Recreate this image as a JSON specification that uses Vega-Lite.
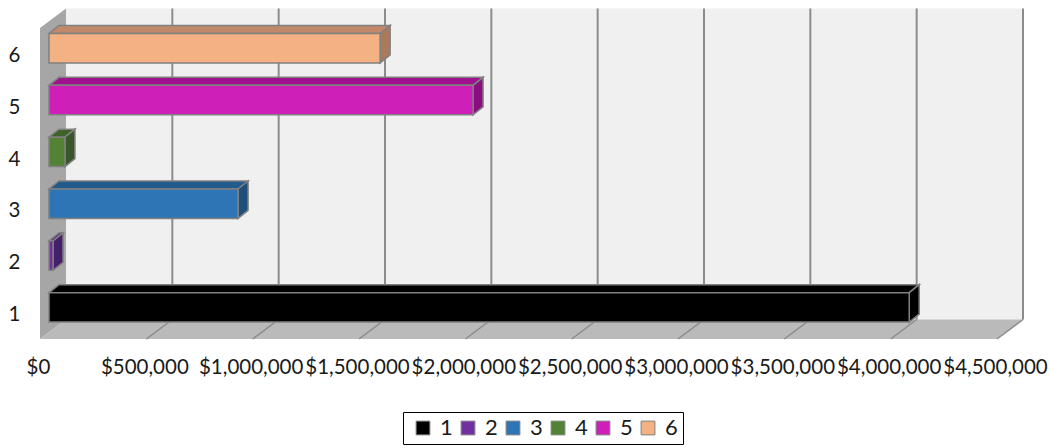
{
  "$schema": "https://vega.github.io/schema/vega-lite/v6.json",
  "width": 957,
  "height": 311,
  "padding": {"left": 40, "top": 28, "right": 52, "bottom": 109},
  "autosize": {"type": "none"},
  "background": "white",
  "config": {
    "view": {"stroke": null},
    "axis": {"labelFont": "Lato", "labelFontSize": 20.5, "labelColor": "#1a1a1a", "grid": false, "domain": false, "ticks": false, "title": null}
  },
  "datasets": {
    "bars": [
      {"category": 1, "value": 4045000},
      {"category": 2, "value": 19000},
      {"category": 3, "value": 889000},
      {"category": 4, "value": 75000},
      {"category": 5, "value": 1994000},
      {"category": 6, "value": 1557000}
    ],
    "ticks": [
      {"tick": 500000}, {"tick": 1000000}, {"tick": 1500000}, {"tick": 2000000}, {"tick": 2500000},
      {"tick": 3000000}, {"tick": 3500000}, {"tick": 4000000}, {"tick": 4500000}
    ],
    "planes": [
      {"plane": "back", "corner": 0, "value": 0, "level": 0.5, "depth": 1},
      {"plane": "back", "corner": 1, "value": 4500000, "level": 0.5, "depth": 1},
      {"plane": "back", "corner": 2, "value": 4500000, "level": 6.5, "depth": 1},
      {"plane": "back", "corner": 3, "value": 0, "level": 6.5, "depth": 1},
      {"plane": "side", "corner": 0, "value": 0, "level": 0.5, "depth": 0},
      {"plane": "side", "corner": 1, "value": 0, "level": 0.5, "depth": 1},
      {"plane": "side", "corner": 2, "value": 0, "level": 6.5, "depth": 1},
      {"plane": "side", "corner": 3, "value": 0, "level": 6.5, "depth": 0},
      {"plane": "floor", "corner": 0, "value": 0, "level": 0.5, "depth": 0},
      {"plane": "floor", "corner": 1, "value": 4500000, "level": 0.5, "depth": 0},
      {"plane": "floor", "corner": 2, "value": 4500000, "level": 0.5, "depth": 1},
      {"plane": "floor", "corner": 3, "value": 0, "level": 0.5, "depth": 1}
    ]
  },
  "encoding": {
    "x": {"type": "quantitative", "scale": {"domain": [0, 4500000], "nice": false, "zero": false},
      "axis": {"values": [0, 500000, 1000000, 1500000, 2000000, 2500000, 3000000, 3500000, 4000000, 4500000], "format": "$,.0f", "labelPadding": 18, "labelOffset": -2, "labelOverlap": false, "labelFlush": false, "labelBound": false}},
    "y": {"type": "quantitative", "scale": {"domain": [0.5, 6.5], "nice": false, "zero": false},
      "axis": {"values": [1, 2, 3, 4, 5, 6], "format": "d", "labelPadding": 20, "labelOffset": 1.5, "labelOverlap": false, "labelFlush": false, "labelBound": false}}
  },
  "layer": [
    {
      "data": {"name": "planes"},
      "transform": [
        {"calculate": "datum.value + datum.depth * 122257", "as": "px"},
        {"calculate": "datum.level + datum.depth * 0.376", "as": "py"}
      ],
      "mark": {"type": "line", "filled": true, "interpolate": "linear-closed", "strokeWidth": 0},
      "encoding": {
        "x": {"field": "px"},
        "y": {"field": "py"},
        "fill": {"field": "plane", "type": "nominal", "legend": null,
          "scale": {"domain": ["back", "side", "floor"], "range": ["#F0F0F0", "#A6A6A6", "#BABABA"]}},
        "order": {"field": "corner", "type": "quantitative"}
      }
    },
    {
      "data": {"name": "ticks"},
      "transform": [
        {"calculate": "datum.tick + 122257", "as": "bx"},
        {"calculate": "0.876", "as": "y0"},
        {"calculate": "6.876", "as": "y1"}
      ],
      "mark": {"type": "rule", "color": "#8C8C8C", "strokeWidth": 2},
      "encoding": {
        "x": {"field": "bx"},
        "y": {"field": "y0"},
        "y2": {"field": "y1"}
      }
    },
    {
      "data": {"name": "ticks"},
      "transform": [
        {"calculate": "datum.tick + 122257", "as": "bx"},
        {"calculate": "0.5", "as": "y0"},
        {"calculate": "0.876", "as": "y1"}
      ],
      "mark": {"type": "rule", "color": "#8C8C8C", "strokeWidth": 1.5},
      "encoding": {
        "x": {"field": "tick"},
        "x2": {"field": "bx"},
        "y": {"field": "y0"},
        "y2": {"field": "y1"}
      }
    },
    {
      "data": {"name": "bars"},
      "transform": [
        {"calculate": "[0, 1, 2, 3]", "as": "corner"},
        {"flatten": ["corner"]},
        {"calculate": "[42320, 89320, datum.value + 89320, datum.value + 42320][datum.corner]", "as": "px"},
        {"calculate": "[0, 0.154, 0.154, 0][datum.corner] + datum.category + 0.394", "as": "py"}
      ],
      "mark": {"type": "line", "filled": true, "interpolate": "linear-closed", "stroke": "#808080", "strokeWidth": 1.5},
      "encoding": {
        "x": {"field": "px"},
        "y": {"field": "py"},
        "fill": {"field": "category", "type": "nominal", "legend": null,
          "scale": {"domain": [1, 2, 3, 4, 5, 6], "range": ["#000000", "#4F2272", "#235A8C", "#3F6228", "#A0118F", "#C1896A"]}},
        "order": {"field": "corner", "type": "quantitative"}
      }
    },
    {
      "data": {"name": "bars"},
      "transform": [
        {"calculate": "[0, 1, 2, 3]", "as": "corner"},
        {"flatten": ["corner"]},
        {"calculate": "[datum.value + 42320, datum.value + 89320, datum.value + 89320, datum.value + 42320][datum.corner]", "as": "px"},
        {"calculate": "[0.394, 0.548, -0.02, -0.174][datum.corner] + datum.category", "as": "py"}
      ],
      "mark": {"type": "line", "filled": true, "interpolate": "linear-closed", "stroke": "#808080", "strokeWidth": 1.5},
      "encoding": {
        "x": {"field": "px"},
        "y": {"field": "py"},
        "fill": {"field": "category", "type": "nominal", "legend": null,
          "scale": {"domain": [1, 2, 3, 4, 5, 6], "range": ["#000000", "#44206A", "#1F4E79", "#38562A", "#8A0E7E", "#A97B5C"]}},
        "order": {"field": "corner", "type": "quantitative"}
      }
    },
    {
      "data": {"name": "bars"},
      "transform": [
        {"calculate": "42320", "as": "x0"},
        {"calculate": "datum.value + 42320", "as": "x1"},
        {"calculate": "datum.category - 0.174", "as": "y0"},
        {"calculate": "datum.category + 0.394", "as": "y1"}
      ],
      "mark": {"type": "rect", "stroke": "#808080", "strokeWidth": 1.5},
      "encoding": {
        "x": {"field": "x0"},
        "x2": {"field": "x1"},
        "y": {"field": "y0"},
        "y2": {"field": "y1"},
        "fill": {"field": "category", "type": "nominal",
          "scale": {"domain": [1, 2, 3, 4, 5, 6], "range": ["#000000", "#7030A0", "#2E75B6", "#548235", "#CE1FB8", "#F4B183"]},
          "legend": {
            "title": null, "orient": "none", "legendX": 363, "legendY": 384, "direction": "horizontal", "columns": 6,
            "symbolType": "square", "symbolSize": 190, "symbolStrokeColor": "#808080", "symbolStrokeWidth": 1, "symbolOffset": 4,
            "labelFont": "Lato", "labelFontSize": 22, "labelColor": "#1a1a1a", "columnPadding": -1, "labelOffset": 6,
            "padding": 5, "strokeColor": "#000000", "fillColor": "#ffffff"
          }
        }
      }
    }
  ],
  "resolve": {"scale": {"fill": "independent"}}
}
